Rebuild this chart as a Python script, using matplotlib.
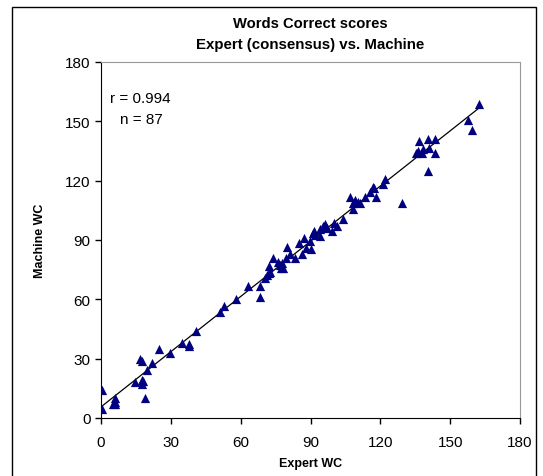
import numpy as np
import matplotlib
matplotlib.use('Agg')
import matplotlib.pyplot as plt
from matplotlib.patches import Rectangle

plt.rcParams['font.family'] = ['Liberation Sans', 'DejaVu Sans']

# Expert vs. machine word-correct scores
expert_wc = [
    0.4, 0.4, 5, 6, 6, 14.6, 16.8, 17.5, 17.7, 17.7, 19, 19.8, 21.8, 24.8,
    29.7, 34.7, 37.6, 37.9, 40.9, 51.1, 52.8, 58, 63.2, 68.2, 68.2, 70.4,
    71.4, 72.1, 72.1, 74, 75.9, 77.3, 78.3, 77.8, 79.3, 80, 81.2, 83.3, 85,
    86.2, 87.2, 89.8, 90.2, 90.9, 91.5, 94.1, 94.1, 95.3, 96.3, 99.1, 100.1,
    101.3, 104.1, 107, 108.4, 108.2, 110.6, 111.3, 113.5, 115.6, 116.8,
    117.4, 118.2, 121.1, 122.1, 129.3, 135.3, 136.5, 137.9, 138.4, 140.5,
    140.8, 140.5, 143.4, 143.4, 157.6, 159.5, 162.6,
    # hidden behind others in dense spots
    6, 18, 72.5, 77, 88, 92, 97, 109, 136,
]
machine_wc = [
    14, 4.4, 7, 7, 10, 18.2, 29.7, 28.8, 19.2, 17, 10, 24.1, 28, 35.1,
    33, 37.8, 37.3, 36.4, 44, 53.8, 56.6, 60, 66.7, 66.7, 61, 71,
    72.1, 73.5, 76.8, 80.7, 78.9, 76, 76, 78.2, 80.7, 86.7, 82.8, 80.7, 88.7,
    83.1, 90.8, 89.5, 85.6, 93.7, 94.5, 92, 95.4, 97, 97.9, 94.5, 98.8,
    97, 100.8, 111.7, 105.8, 108.9, 109.2, 108.9, 111.9, 114.3, 116.8,
    116.5, 111.9, 118.5, 120.7, 108.9, 133.8, 140, 134.2, 136.2, 140.9,
    136.7, 124.9, 140.9, 133.8, 150.7, 145.6, 159,
    8, 18.5, 74, 77.5, 86, 92.5, 96, 110, 135,
]
axis_ticks = [0, 30, 60, 90, 120, 150, 180]

x = np.array(expert_wc)
y = np.array(machine_wc)

fig = plt.figure(figsize=(5.43, 4.77), dpi=100)
ax = fig.add_axes([101 / 543, 1 - 419 / 477, 419 / 543, 356 / 477])

# outer chart border (runs off the bottom of the image)
fig.patches.append(Rectangle((12 / 543, -0.05), 524 / 543, 1.05 - 8 / 477,
                             transform=fig.transFigure, fill=False,
                             edgecolor='black', linewidth=1))

# trend line
k, b = np.polyfit(x, y, 1)
xs = np.array([x.min(), x.max()])
ax.plot(xs, k * xs + b, color='black', linewidth=0.9, zorder=2)

ax.scatter(x, y, marker='^', s=44, color='#000080', linewidths=0, zorder=3)

ax.set_xlim(0, 180)
ax.set_ylim(0, 180)
ax.set_xticks(axis_ticks)
ax.set_yticks(axis_ticks)
ax.tick_params(direction='out', length=4, width=1, labelsize=11, color='black')
ax.tick_params(axis='x', pad=8)

for side in ['top', 'right']:
    ax.spines[side].set_color('#999999')
for side in ['left', 'bottom']:
    ax.spines[side].set_color('black')

ax.set_xlabel('Expert WC', fontsize=9, fontweight='bold', labelpad=6)
ax.set_ylabel('Machine WC', fontsize=9, fontweight='bold', labelpad=14)

fig.text(310.5 / 543, 1 - 24 / 477, 'Words Correct scores', ha='center', va='center',
         fontsize=10.6, fontweight='bold')
fig.text(310.5 / 543, 1 - 45 / 477, 'Expert (consensus) vs. Machine', ha='center',
         va='center', fontsize=10.8, fontweight='bold')

ax.text(0.022, 0.9, 'r = 0.994', transform=ax.transAxes, fontsize=11, va='center')
ax.text(0.045, 0.84, 'n = 87', transform=ax.transAxes, fontsize=11, va='center')

fig.savefig('out.png', dpi=100)
